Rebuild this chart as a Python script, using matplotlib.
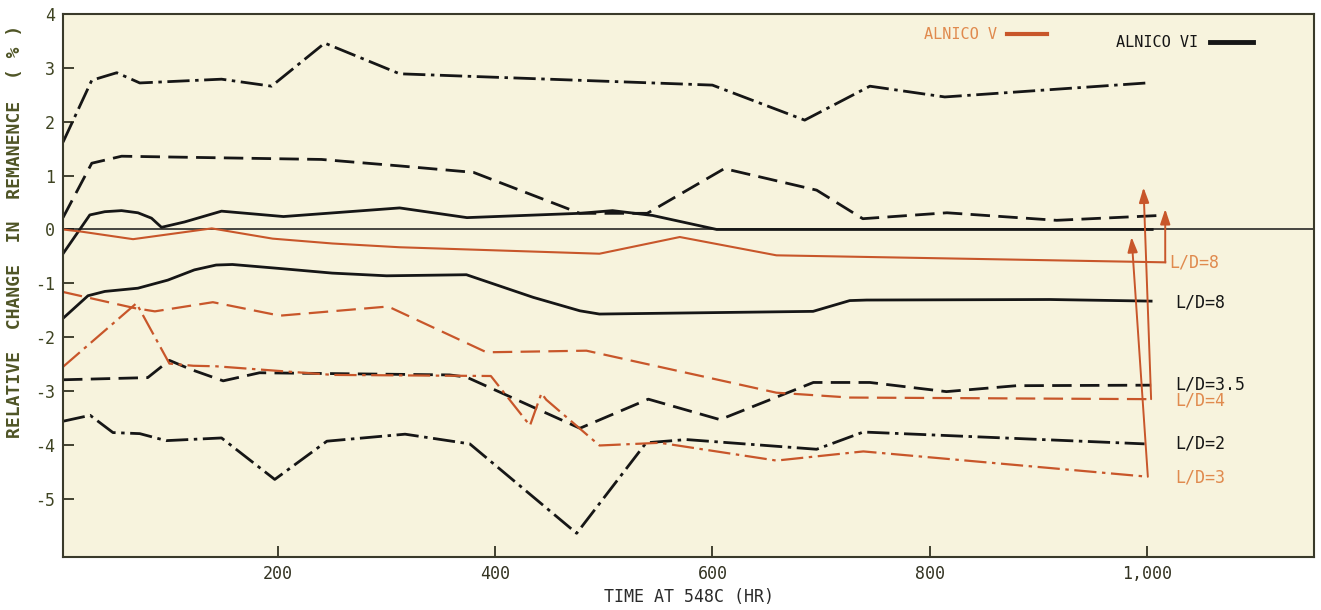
import matplotlib
matplotlib.use("Agg")
import matplotlib.pyplot as plt
from matplotlib.lines import Line2D

# ALNICO VI (black) curves
vi_top_x = [2, 28.5, 51.5, 72.7, 148, 194, 243, 312, 600, 685, 745, 814, 1000]
vi_top_y = [1.62, 2.77, 2.91, 2.72, 2.79, 2.66, 3.46, 2.89, 2.68, 2.03, 2.66, 2.46, 2.72]

vi_mid_x = [2, 28.5, 56, 240, 312, 380, 478, 540, 611, 696, 738.5, 816, 917, 1012]
vi_mid_y = [0.22, 1.23, 1.36, 1.30, 1.18, 1.06, 0.30, 0.30, 1.13, 0.73, 0.20, 0.31, 0.17, 0.26]

vi_low_x = [2, 26.7, 40.5, 55.9, 71, 83.5, 92.7, 114, 148, 205, 312, 374, 478, 508, 545, 604, 1005]
vi_low_y = [-0.45, 0.27, 0.33, 0.35, 0.31, 0.21, 0.04, 0.14, 0.34, 0.24, 0.40, 0.22, 0.30, 0.35, 0.26, 0.0, 0.0]

vi_ld8_x = [2, 25, 40.5, 71, 98.5, 123, 143, 158, 205, 250, 300, 373.5, 435, 478, 496, 692.7, 726.5, 742, 910.7, 1004]
vi_ld8_y = [-1.65, -1.23, -1.15, -1.09, -0.94, -0.75, -0.66, -0.65, -0.73, -0.81, -0.86, -0.84, -1.26, -1.51, -1.57, -1.52, -1.32, -1.31, -1.30, -1.33]

vi_ld35_x = [2, 80, 100, 120, 149.5, 183, 358, 373.5, 478, 541, 607, 693, 745, 815.5, 880, 1004]
vi_ld35_y = [-2.79, -2.75, -2.43, -2.60, -2.81, -2.66, -2.70, -2.74, -3.69, -3.15, -3.53, -2.84, -2.84, -3.01, -2.90, -2.89]

vi_ld2_x = [2, 27, 48, 72.7, 97, 148, 197, 245, 317, 376.6, 475, 539, 576, 696, 739, 998]
vi_ld2_y = [-3.56, -3.45, -3.77, -3.79, -3.92, -3.87, -4.64, -3.93, -3.80, -3.98, -5.64, -3.96, -3.90, -4.08, -3.76, -3.98]

# ALNICO V (orange) curves
v_ld8_x = [2, 19, 66.5, 139, 195, 250, 312, 496, 570, 659, 1017]
v_ld8_y = [0, -0.04, -0.18, 0.02, -0.17, -0.26, -0.33, -0.45, -0.14, -0.48, -0.61]

v_ld4_x = [2, 68, 86.6, 140, 201.7, 301.4, 392, 484, 659, 726.5, 1004]
v_ld4_y = [-1.16, -1.46, -1.52, -1.35, -1.60, -1.43, -2.28, -2.25, -3.03, -3.12, -3.15]

v_ld3_x = [2, 69.6, 100, 122, 143, 250.7, 396, 432, 442.6, 447, 496, 551.6, 659, 739, 1001]
v_ld3_y = [-2.55, -1.37, -2.49, -2.53, -2.54, -2.70, -2.72, -3.64, -3.04, -3.16, -4.01, -3.96, -4.29, -4.12, -4.59]

# arrows from the orange curve ends
arrow_base_x = [1017, 1004, 1001]
arrow_base_y = [-0.61, -3.15, -4.59]
arrow_tip_x = [1017, 997, 986]
arrow_tip_y = [0.38, 0.78, -0.14]

# end labels
label_text = ["L/D=8", "L/D=8", "L/D=3.5", "L/D=4", "L/D=2", "L/D=3"]
label_x = [1021, 1026, 1026, 1026, 1026, 1026]
label_y = [-0.61, -1.36, -2.88, -3.18, -3.98, -4.60]
label_series = ["V", "VI", "VI", "V", "VI", "V"]

x_ticks = [200, 400, 600, 800, 1000]
x_tick_labels = ["200", "400", "600", "800", "1,000"]
y_ticks = [-5, -4, -3, -2, -1, 0, 1, 2, 3, 4]
y_tick_labels = ["-5", "-4", "-3", "-2", "-1", "0", "1", "2", "3", "4"]

BLACK = "#161616"
ORANGE = "#c8562a"
ORANGE_TXT = "#e08a4e"
OLIVE = "#4f5526"
FONT = "DejaVu Sans Mono"

plt.rcParams["lines.scale_dashes"] = False
plt.rcParams["font.family"] = [FONT, "DejaVu Sans"]

DASHED = (0, (14, 6))
DASHDOT = (0, (16, 4, 2.5, 4))

fig = plt.figure(figsize=(13.21, 6.10), dpi=100)
ax = fig.add_axes([63 / 1321, 1 - 557 / 610, 1251 / 1321, 543 / 610])
ax.set_facecolor("#f7f3dd")

ax.axhline(0, color=BLACK, lw=1.1)

ax.plot(vi_top_x, vi_top_y, color=BLACK, lw=2, linestyle=DASHDOT)
ax.plot(vi_mid_x, vi_mid_y, color=BLACK, lw=2, linestyle=DASHED)
ax.plot(vi_low_x, vi_low_y, color=BLACK, lw=2)
ax.plot(vi_ld8_x, vi_ld8_y, color=BLACK, lw=2)
ax.plot(vi_ld35_x, vi_ld35_y, color=BLACK, lw=2, linestyle=DASHED)
ax.plot(vi_ld2_x, vi_ld2_y, color=BLACK, lw=2, linestyle=DASHDOT)

ax.plot(v_ld8_x, v_ld8_y, color=ORANGE, lw=1.5)
ax.plot(v_ld4_x, v_ld4_y, color=ORANGE, lw=1.6, linestyle=DASHED)
ax.plot(v_ld3_x, v_ld3_y, color=ORANGE, lw=1.6, linestyle=DASHDOT)

for bx, by, tx, ty in zip(arrow_base_x, arrow_base_y, arrow_tip_x, arrow_tip_y):
    ax.annotate("", xy=(tx, ty), xytext=(bx, by),
                arrowprops=dict(arrowstyle="-|>,head_length=0.9,head_width=0.3",
                                color=ORANGE, lw=1.4, shrinkA=0, shrinkB=0))

for txt, lx, ly, s in zip(label_text, label_x, label_y, label_series):
    c = ORANGE_TXT if s == "V" else BLACK
    ax.text(lx, ly, txt, color=c, fontsize=12, va="center", ha="left")

# legend: text first, then a line sample
leg1 = ax.legend([Line2D([], [], color=ORANGE, lw=3)], ["ALNICO V"],
                 loc="center right", bbox_to_anchor=(0.7866, 0.962),
                 markerfirst=False, frameon=False, fontsize=11,
                 handlelength=2.6, handletextpad=0.7, borderpad=0,
                 borderaxespad=0, labelcolor=ORANGE_TXT)
ax.add_artist(leg1)
ax.legend([Line2D([], [], color=BLACK, lw=3.5)], ["ALNICO VI"],
          loc="center right", bbox_to_anchor=(0.9512, 0.947),
          markerfirst=False, frameon=False, fontsize=11,
          handlelength=2.8, handletextpad=0.8, borderpad=0,
          borderaxespad=0, labelcolor=BLACK)

ax.set_xlim(2, 1154)
ax.set_ylim(-6.08, 4.0)
ax.set_xticks(x_ticks)
ax.set_xticklabels(x_tick_labels)
ax.set_yticks(y_ticks)
ax.set_yticklabels(y_tick_labels)
ax.tick_params(direction="in", length=8, width=1.3, labelsize=12, pad=6,
               colors="#333322")
ax.tick_params(axis="y", labelcolor="#3f4422")

for sp in ax.spines.values():
    sp.set_color("#3a3a2a")
    sp.set_linewidth(1.5)

ax.set_xlabel("TIME AT 548C (HR)", fontsize=12, color="#2a2a2a", labelpad=3)
ax.set_ylabel("RELATIVE  CHANGE  IN  REMANENCE  ( % )", fontsize=13,
              color=OLIVE, fontweight="bold")
ax.yaxis.set_label_coords(-0.031, 0.6)

fig.savefig("out.png", dpi=100)
